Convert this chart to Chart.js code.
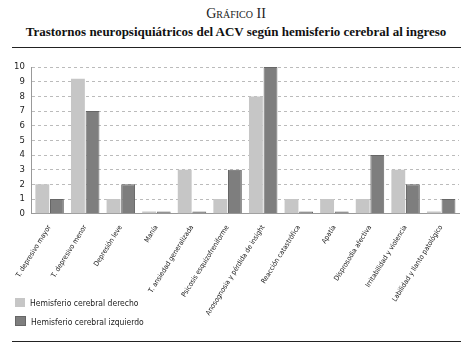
<!DOCTYPE html>
<html lang="es">
<head>
<meta charset="UTF-8">
<title>Gráfico II</title>
<style>
  body { margin: 0; background: #fff; width: 472px; height: 351px; position: relative; overflow: hidden; }
  .sup { position: absolute; top: 6px; left: 0; width: 472px; text-align: center; font-family: "Liberation Serif", serif; font-size: 14px; color: #222; font-variant: small-caps; }
  .tit { position: absolute; top: 24px; left: 0; width: 472px; text-align: center; font-family: "Liberation Serif", serif; font-weight: bold; font-size: 13px; color: #111; }
  .rule { position: absolute; left: 12px; width: 449px; height: 1px; background: #222; }
  #wrap { position: absolute; left: 0; top: 55px; width: 472px; height: 264px; }
  .leg { position: absolute; left: 15px; font-family: "DejaVu Sans Condensed", sans-serif; font-size: 8.5px; color: #222; }
  .leg span { display: inline-block; width: 10px; height: 9px; vertical-align: -1px; margin-right: 5px; }
</style>
</head>
<body>
<div class="sup">Gráfico II</div>
<div class="tit">Trastornos neuropsiquiátricos del ACV según hemisferio cerebral al ingreso</div>
<div class="rule" style="top:47px"></div>
<div id="wrap"><canvas id="myCanvas"></canvas></div>
<div class="leg" style="top:298px"><span style="background:#c6c6c6"></span>Hemisferio cerebral derecho</div>
<div class="leg" style="top:316px"><span style="background:#7e7e7e;border:1px solid #666;width:9px;height:8px"></span>Hemisferio cerebral izquierdo</div>
<div class="rule" style="top:341px"></div>

<script src="https://cdn.jsdelivr.net/npm/chart.js@4.4.0/dist/chart.umd.min.js"></script>
<script>
const categories = [
    'T. depresivo mayor', 'T. depresivo menor', 'Depresión leve', 'Manía',
    'T. ansiedad generalizada', 'Psicosis esquizofreniforme',
    'Anosognosia y pérdida de insight', 'Reacción catastrófica', 'Apatía',
    'Disprosodia afectiva', 'Irritabilidad y violencia', 'Labilidad y llanto patológico'
];
const derecho = [2, 9.2, 1, 0.15, 3, 1, 8, 1, 1, 1, 3, 0.15];
const izquierdo = [1, 7, 2, 0.15, 0.15, 3, 10, 0.15, 0.15, 4, 2, 1];
const yTicks = [0, 1, 2, 3, 4, 5, 6, 7, 8, 9, 10];

let ctx = document.getElementById('myCanvas').getContext('2d');
var chart = new Chart(ctx, {
    type: 'bar',
    data: {
        labels: categories,
        datasets: [{
            label: 'Hemisferio cerebral derecho',
            backgroundColor: '#c6c6c6',
            borderWidth: 0,
            data: derecho
        }, {
            label: 'Hemisferio cerebral izquierdo',
            backgroundColor: '#7e7e7e',
            borderColor: '#666',
            borderWidth: 1,
            data: izquierdo
        }]
    },
    options: {
        responsive: true,
        maintainAspectRatio: false,
        animation: false,
        layout: { padding: { left: 7, right: 13, top: 12, bottom: 0 } },
        plugins: { legend: { display: false }, tooltip: { enabled: false } },
        datasets: { bar: { categoryPercentage: 0.82, barPercentage: 0.95 } },
        scales: {
            x: {
                grid: { display: false },
                border: { color: '#999' },
                ticks: {
                    minRotation: 58, maxRotation: 58, autoSkip: false,
                    color: '#222', padding: 2,
                    font: { family: '"DejaVu Sans Condensed", sans-serif', size: 7 }
                }
            },
            y: {
                min: 0, max: 10,
                z: 1,
                afterBuildTicks: s => { s.ticks = yTicks.map(v => ({ value: v })); },
                grid: { color: '#bbb', drawTicks: false },
                border: { color: '#999', dash: [3, 3] },
                ticks: { autoSkip: false, color: '#222', padding: 7, font: { family: '"DejaVu Sans", sans-serif', size: 8.5 } }
            }
        }
    }
});
</script>
</body>
</html>
